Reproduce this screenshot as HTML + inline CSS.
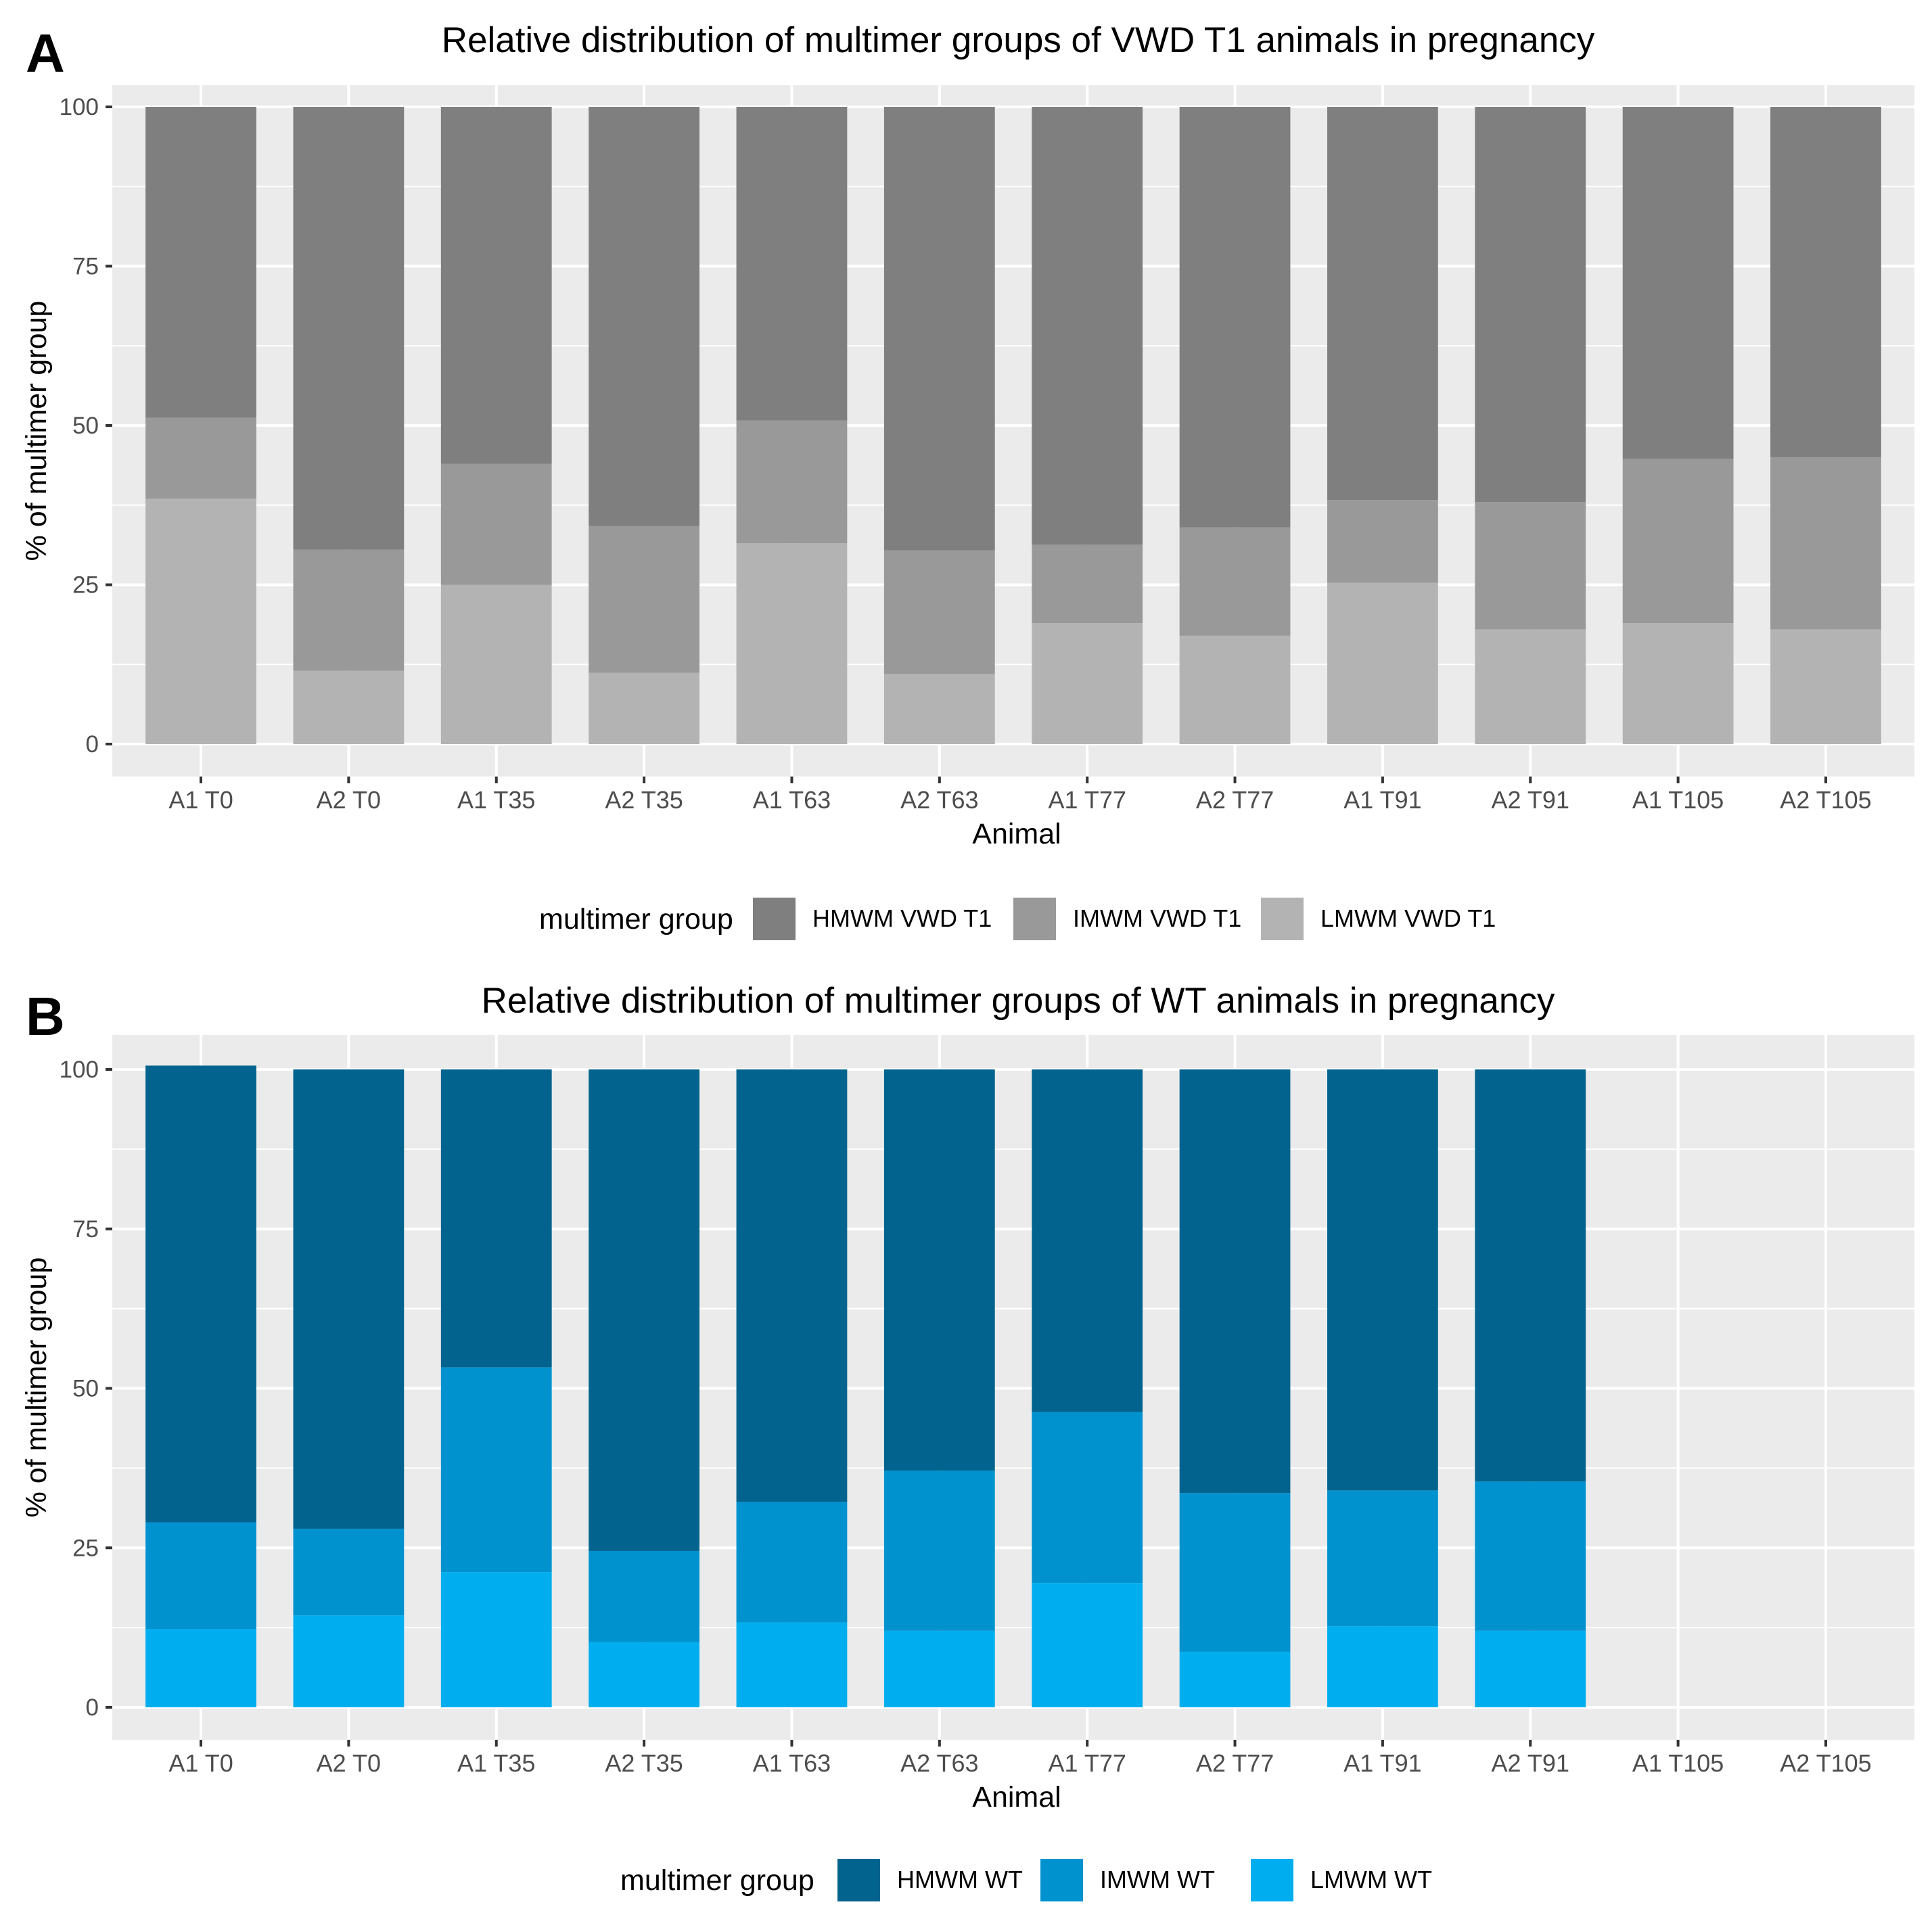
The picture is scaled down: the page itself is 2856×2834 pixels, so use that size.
<!DOCTYPE html>
<html><head><meta charset="utf-8">
<style>
html,body{margin:0;padding:0;background:#fff;}
svg{display:block;font-family:"Liberation Sans",Arial,sans-serif;}
</style></head>
<body>
<svg id="chart" width="2856" height="2834" viewBox="0 0 2856 2834" xmlns="http://www.w3.org/2000/svg"></svg>
<script>
const categories = ["A1 T0","A2 T0","A1 T35","A2 T35","A1 T63","A2 T63","A1 T77","A2 T77","A1 T91","A2 T91","A1 T105","A2 T105"];
const yTicks = [0,25,50,75,100];
// Panel A (VWD T1)
const lmwmA = [38.5,11.5,25,11.2,31.5,11,19,17,25.3,18,19,18];
const imwmA = [12.7,19,19,23,19.3,19.4,12.3,17,13,20,25.8,27];
const hmwmA = [48.8,69.5,56,65.8,49.2,69.6,68.7,66,61.7,62,55.2,55];
// Panel B (WT)
const lmwmB = [12.3,14.4,21.2,10.2,13.3,12,19.5,8.7,12.7,12];
const imwmB = [16.7,13.6,32.1,14.3,18.9,25.1,26.8,24.9,21.3,23.4];
const hmwmB = [71.6,72,46.7,75.5,67.8,62.9,53.7,66.4,66,64.6];
const legendA = ["HMWM VWD T1","IMWM VWD T1","LMWM VWD T1"];
const legendB = ["HMWM WT","IMWM WT","LMWM WT"];

const NS="http://www.w3.org/2000/svg";
const svg=document.getElementById('chart');
function el(tag,attrs,parent,text){const e=document.createElementNS(NS,tag);for(const k in attrs)e.setAttribute(k,attrs[k]);if(text!==undefined)e.textContent=text;(parent||svg).appendChild(e);return e;}

const PL=166, PR=2830, step=(PR-PL)/12.2, bw=step*0.75;
function xC(i){return PL+(0.6+i)*step;}

function panel(cfg){
  const g=el('g',{},svg);
  
  
  const y=v=>cfg.y0-(v/25)*cfg.u;
  const bg=el('rect',{x:PL,y:cfg.top,width:PR-PL,height:cfg.bottom-cfg.top,fill:'#ebebeb'},g);
  
  for(let k=0;k<yTicks.length-1;k++){const v=(yTicks[k]+yTicks[k+1])/2;
    const l=el('line',{x1:PL,x2:PR,y1:y(v),y2:y(v),stroke:'#fff','stroke-width':2},g);
    }
  yTicks.forEach(v=>{const l=el('line',{x1:PL,x2:PR,y1:y(v),y2:y(v),stroke:'#fff','stroke-width':4},g);
    
    const t=el('line',{x1:156,x2:PL,y1:y(v),y2:y(v),stroke:'#333','stroke-width':4},g);
    
    const tx=el('text',{x:146,y:y(v)+12,'text-anchor':'end','font-size':35,fill:'#4d4d4d'},g,String(v));
    });
  categories.forEach((c,i)=>{const l=el('line',{x1:xC(i),x2:xC(i),y1:cfg.top,y2:cfg.bottom,stroke:'#fff','stroke-width':4},g);
    
    const t=el('line',{x1:xC(i),x2:xC(i),y1:cfg.bottom,y2:cfg.bottom+10,stroke:'#333','stroke-width':4},g);
    
    const tx=el('text',{x:xC(i),y:cfg.bottom+47,'text-anchor':'middle','font-size':36,fill:'#4d4d4d'},g,c);
    });
  const series=[cfg.l,cfg.m,cfg.h];
  cfg.l.forEach((_,i)=>{let base=0;
    series.forEach((s,k)=>{const v=s[i];
      const r=el('rect',{x:xC(i)-bw/2,y:y(base+v),width:bw,height:y(base)-y(base+v),fill:cfg.colors[2-k]},g);
      
      base+=v;});});
  const ttl=el('text',{x:1505,y:cfg.titleY,'text-anchor':'middle','font-size':53,fill:'#000'},g,cfg.title);
  
  const lab=el('text',{x:38,y:cfg.labelY,'font-size':80,'font-weight':'bold',fill:'#000'},g,cfg.letter);
  
  const xt=el('text',{x:1503,y:cfg.bottom+99,'text-anchor':'middle','font-size':43,fill:'#000'},g,'Animal');
  
  const ym=(cfg.top+cfg.bottom)/2;
  const yt=el('text',{x:0,y:0,'text-anchor':'middle','font-size':43,fill:'#000',transform:`translate(68,${ym}) rotate(-90)`},g,'% of multimer group');
  
  const lg=el('g',{},g);
  const lt=el('text',{x:cfg.legTitleX,y:cfg.legY+15,'font-size':43,fill:'#000'},lg,'multimer group');
  
  cfg.legend.forEach((name,k)=>{
    const kx=cfg.keyX[k];
    const r=el('rect',{x:kx,y:cfg.legY-31,width:63,height:63,fill:cfg.colors[k]},lg);
    
    const t=el('text',{x:kx+88,y:cfg.legY+12,'font-size':36,fill:'#000'},lg,name);
    });
}

panel({name:'panel-a',letter:'A',title:'Relative distribution of multimer groups of VWD T1 animals in pregnancy',titleY:77,labelY:106,
  top:126,bottom:1148,y0:1100,u:235.5,l:lmwmA,m:imwmA,h:hmwmA,
  colors:['#7f7f7f','#999999','#b3b3b3'],keys:['hmwm','imwm','lmwm'],legend:legendA,
  legY:1358,legTitleX:797,keyX:[1113,1498,1864]});
panel({name:'panel-b',letter:'B',title:'Relative distribution of multimer groups of WT animals in pregnancy',titleY:1497,labelY:1530,
  top:1530,bottom:2572,y0:2524,u:235.75,l:lmwmB,m:imwmB,h:hmwmB,
  colors:['#02638e','#0092cf','#00aeef'],keys:['hmwm','imwm','lmwm'],legend:legendB,
  legY:2779,legTitleX:917,keyX:[1238,1538,1849]});
</script>
</body></html>
